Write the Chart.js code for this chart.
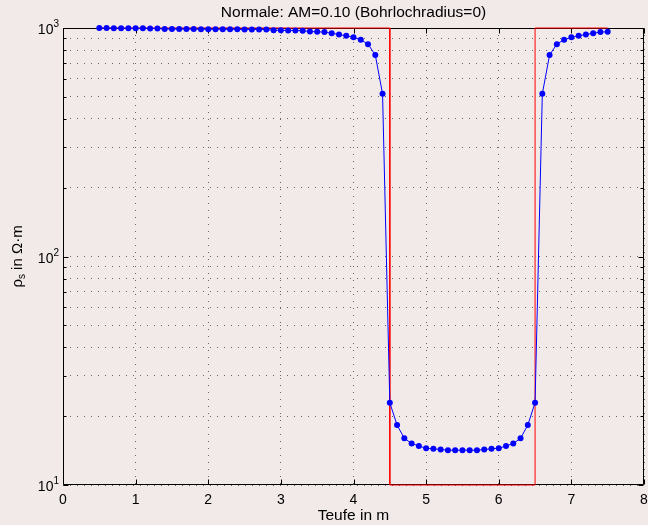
<!DOCTYPE html>
<html>
<head>
<meta charset="utf-8">
<title>Normale</title>
<script src="https://cdn.jsdelivr.net/npm/chart.js@4"></script>
<style>
    body { margin: 0; background: #f2e9e9; }
    canvas { display: block; }
</style>
</head>
<body>
<canvas id="rhoChart" width="648" height="525"></canvas>
<script>
// measured apparent resistivity (blue) along depth
const depth = [
    0.5, 0.6, 0.7, 0.8, 0.9, 1.0, 1.1, 1.2, 1.3, 1.4,
    1.5, 1.6, 1.7, 1.8, 1.9, 2.0, 2.1, 2.2, 2.3, 2.4,
    2.5, 2.6, 2.7, 2.8, 2.9, 3.0, 3.1, 3.2, 3.3, 3.4,
    3.5, 3.6, 3.7, 3.8, 3.9, 4.0, 4.1, 4.2, 4.3, 4.4,
    4.5, 4.6, 4.7, 4.8, 4.9, 5.0, 5.1, 5.2, 5.3, 5.4,
    5.5, 5.6, 5.7, 5.8, 5.9, 6.0, 6.1, 6.2, 6.3, 6.4,
    6.5, 6.6, 6.7, 6.8, 6.9, 7.0, 7.1, 7.2, 7.3, 7.4,
    7.5
];
const rhoApparent = [
    999, 999, 998, 998, 998, 997, 997, 996, 996, 990,
    990, 989, 989, 989, 988, 988, 988, 987, 987, 987,
    986, 986, 985, 984, 978, 977, 976, 974, 973, 965,
    962, 960, 948, 937, 925, 910, 888, 850, 762, 515,
    22.9, 18.3, 16.0, 15.2, 14.8, 14.5, 14.4, 14.3, 14.2, 14.2,
    14.2, 14.2, 14.2, 14.3, 14.4, 14.5, 14.8, 15.2, 16.0, 18.3,
    22.9, 515, 762, 850, 888, 910, 925, 937, 948, 960,
    962
];

// layer model (red)
const modelDepth = [0.5, 4.5, 4.5, 6.5, 6.5, 7.5];
const modelRho = [1000, 1000, 10, 10, 1000, 1000];

// axes
const xTicks = [0, 1, 2, 3, 4, 5, 6, 7, 8];
const yMajorTicks = [10, 100, 1000];
const yExponents = ['1', '2', '3'];
const yMinorTicks = [20, 30, 40, 50, 60, 70, 80, 90, 200, 300, 400, 500, 600, 700, 800, 900];

const titleText = 'Normale: AM=0.10 (Bohrlochradius=0)';

const FONT = '"Liberation Sans", Arial, Helvetica, sans-serif';
Chart.defaults.font.family = FONT;
Chart.defaults.color = '#000';

// MATLAB-like box, inward ticks, 10^n labels, title and y label
const matlabAxes = {
    id: 'matlabAxes',
    beforeDatasetsDraw(chart) {
        const { ctx, chartArea: a, scales: { x, y } } = chart;
        const L = Math.round(a.left) + 0.5;
        const R = Math.round(a.right) - 0.5;
        const T = Math.round(a.top) + 0.5;
        const B = Math.round(a.bottom) - 0.5;
        ctx.save();
        ctx.strokeStyle = '#000';
        ctx.lineWidth = 1;
        ctx.beginPath();
        ctx.rect(L, T, R - L, B - T);
        xTicks.forEach(v => {
            const px = Math.round(x.getPixelForValue(v)) + 0.5;
            ctx.moveTo(px, B); ctx.lineTo(px, B - 5);
            ctx.moveTo(px, T); ctx.lineTo(px, T + 5);
        });
        yMajorTicks.forEach(v => {
            const py = Math.round(y.getPixelForValue(v)) + 0.5;
            ctx.moveTo(L, py); ctx.lineTo(L + 5, py);
            ctx.moveTo(R, py); ctx.lineTo(R - 5, py);
        });
        yMinorTicks.forEach(v => {
            const py = Math.round(y.getPixelForValue(v)) + 0.5;
            ctx.moveTo(L, py); ctx.lineTo(L + 3, py);
            ctx.moveTo(R, py); ctx.lineTo(R - 3, py);
        });
        ctx.stroke();

        ctx.fillStyle = '#000';

        // title centred over the axes
        ctx.font = '15.5px ' + FONT;
        ctx.textAlign = 'center';
        ctx.textBaseline = 'middle';
        ctx.fillText(titleText, (a.left + a.right) / 2, 13);

        // tick labels 10^n
        ctx.textBaseline = 'alphabetic';
        yMajorTicks.forEach((v, i) => {
            const py = y.getPixelForValue(v);
            ctx.font = '10px ' + FONT;
            const ew = ctx.measureText(yExponents[i]).width;
            const right = a.left - 4;
            ctx.textAlign = 'left';
            ctx.fillText(yExponents[i], right - ew, py - 1);
            ctx.font = '14px ' + FONT;
            ctx.textAlign = 'right';
            ctx.fillText('10', right - ew, py + 6);
        });

        // y axis title: rho_s in Ohm.m
        ctx.translate(22, (a.top + a.bottom) / 2);
        ctx.rotate(-Math.PI / 2);
        ctx.font = '15px ' + FONT;
        const w1 = ctx.measureText('\u03c1').width;
        const rest = ' in \u03a9\u00b7m';
        const w3 = ctx.measureText(rest).width;
        ctx.font = '10px ' + FONT;
        const w2 = ctx.measureText('s').width;
        let tx = -(w1 + w2 + w3) / 2;
        ctx.textAlign = 'left';
        ctx.font = '15px ' + FONT;
        ctx.fillText('\u03c1', tx, 0);
        tx += w1;
        ctx.font = '10px ' + FONT;
        ctx.fillText('s', tx, 3);
        tx += w2;
        ctx.font = '15px ' + FONT;
        ctx.fillText(rest, tx, 0);
        ctx.restore();
    }
};

const ctx = document.getElementById('rhoChart');
new Chart(ctx, {
    type: 'scatter',
    data: {
        datasets: [
            {
                label: 'rho_s',
                data: depth.map((d, i) => ({ x: d, y: rhoApparent[i] })),
                showLine: true,
                borderColor: '#0000ff',
                backgroundColor: '#0000ff',
                borderWidth: 1,
                pointRadius: 3,
                pointBorderWidth: 0,
                clip: false
            },
            {
                label: 'Modell',
                data: modelDepth.map((d, i) => ({ x: d, y: modelRho[i] })),
                showLine: true,
                borderColor: '#ff0000',
                borderWidth: 1,
                pointRadius: 0,
                clip: false
            }
        ]
    },
    options: {
        responsive: false,
        animation: false,
        layout: { padding: { left: 0, right: 4, top: 28, bottom: 0 } },
        plugins: {
            legend: { display: false },
            tooltip: { enabled: false },
            title: { display: false }
        },
        scales: {
            x: {
                type: 'linear',
                min: 0,
                max: 8,
                afterBuildTicks: s => { s.ticks = xTicks.map(v => ({ value: v })); },
                afterFit: s => {
                    s.height = 40;
                    s.paddingLeft = 0;
                    s.paddingRight = 0;
                },
                ticks: { font: { size: 14 }, color: '#000', padding: 7, maxRotation: 0 },
                grid: { color: '#666', lineWidth: 1, drawTicks: false },
                border: { display: false, dash: [1, 6] },
                title: {
                    display: true,
                    text: 'Teufe in m',
                    font: { size: 15.5 },
                    color: '#000',
                    padding: { top: 0, bottom: 0 }
                }
            },
            y: {
                type: 'logarithmic',
                min: 10,
                max: 1000,
                afterBuildTicks: s => {
                    s.ticks = yMajorTicks.concat(yMinorTicks).sort((p, q) => p - q).map(v => ({ value: v }));
                },
                afterFit: s => {
                    s.width = 63;
                    s.paddingTop = 0;
                    s.paddingBottom = 0;
                },
                ticks: { display: false },
                grid: { color: '#666', lineWidth: 1, drawTicks: false },
                border: { display: false, dash: [1, 6] }
            }
        }
    },
    plugins: [matlabAxes]
});
</script>
</body>
</html>
